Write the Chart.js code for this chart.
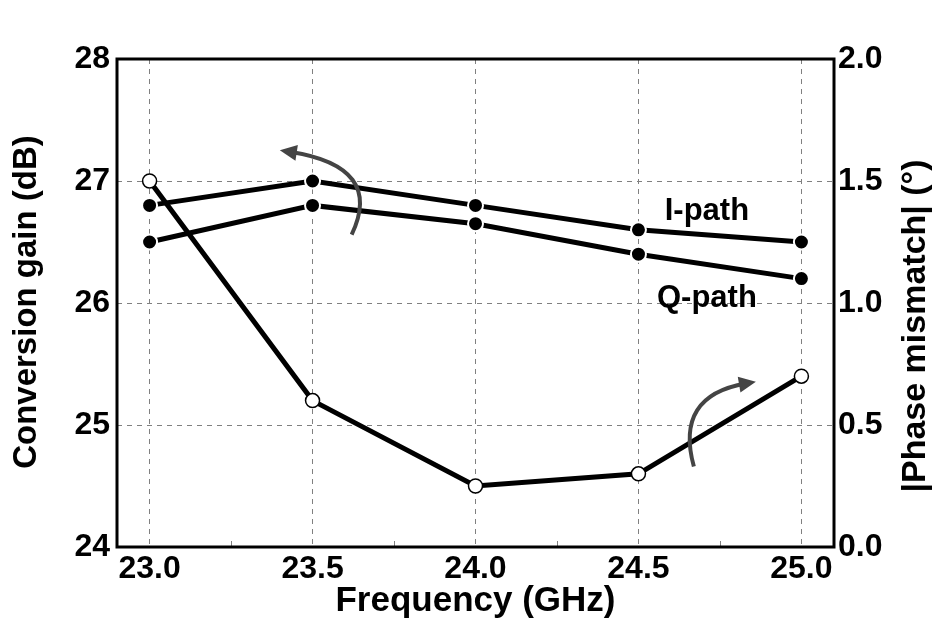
<!DOCTYPE html>
<html>
<head>
<meta charset="utf-8">
<script src="https://cdn.jsdelivr.net/npm/chart.js@4.4.1/dist/chart.umd.min.js"></script>
<style>
  html, body { margin: 0; padding: 0; background: #fff; }
</style>
</head>
<body>
<canvas id="chart" width="937" height="621"></canvas>
<script>
// data
const freqs = [23.0, 23.5, 24.0, 24.5, 25.0];
const iPathGain = [26.8, 27.0, 26.8, 26.6, 26.5];
const qPathGain = [26.5, 26.8, 26.65, 26.4, 26.2];
const phaseMismatch = [1.5, 0.6, 0.25, 0.3, 0.7];

const freqTicks = [23.0, 23.5, 24.0, 24.5, 25.0];
const minorFreqTicks = [23.25, 23.75, 24.25, 24.75];
const gainTicks = [24, 25, 26, 27, 28];
const phaseTicks = [0, 0.5, 1.0, 1.5, 2.0];

const FONT = "'Liberation Sans', Arial, sans-serif";
const GRID = '#808080';

function toPoints(xs, ys) {
    return xs.map((x, i) => ({ x: x, y: ys[i] }));
}

// frame, minor ticks, arrows, labels and axis titles
const decorPlugin = {
    id: 'decor',
    beforeDatasetsDraw(chart) {
        const ctx = chart.ctx;
        const x = chart.scales.x;
        const a = chart.chartArea;
        ctx.save();
        ctx.strokeStyle = GRID;
        ctx.lineWidth = 1;
        minorFreqTicks.forEach(v => {
            const px = Math.round(x.getPixelForValue(v)) + 0.5;
            ctx.beginPath();
            ctx.moveTo(px, a.bottom);
            ctx.lineTo(px, a.bottom - 6);
            ctx.stroke();
        });
        ctx.restore();
    },
    afterDatasetsDraw(chart) {
        const ctx = chart.ctx;
        const x = chart.scales.x, y = chart.scales.y, y1 = chart.scales.y1;
        const a = chart.chartArea;

        // arrows pointing to the axis each group belongs to
        function arrow(scaleY, p0, c, p1) {
            const x0 = x.getPixelForValue(p0[0]), y0 = scaleY.getPixelForValue(p0[1]);
            const cx = x.getPixelForValue(c[0]), cy = scaleY.getPixelForValue(c[1]);
            const x1 = x.getPixelForValue(p1[0]), y1p = scaleY.getPixelForValue(p1[1]);
            ctx.save();
            ctx.strokeStyle = '#444';
            ctx.fillStyle = '#444';
            ctx.lineWidth = 4;
            ctx.beginPath();
            ctx.moveTo(x0, y0);
            ctx.quadraticCurveTo(cx, cy, x1, y1p);
            ctx.stroke();
            const ang = Math.atan2(y1p - cy, x1 - cx);
            const len = 17, half = 8;
            const tx = x1 + Math.cos(ang) * 10, ty = y1p + Math.sin(ang) * 10;
            ctx.beginPath();
            ctx.moveTo(tx, ty);
            ctx.lineTo(tx - len * Math.cos(ang) + half * Math.sin(ang), ty - len * Math.sin(ang) - half * Math.cos(ang));
            ctx.lineTo(tx - len * Math.cos(ang) - half * Math.sin(ang), ty - len * Math.sin(ang) + half * Math.cos(ang));
            ctx.closePath();
            ctx.fill();
            ctx.restore();
        }
        arrow(y, [23.62, 26.56], [23.72, 27.12], [23.43, 27.24]);
        arrow(y1, [24.67, 0.33], [24.61, 0.62], [24.83, 0.67]);

        // series labels
        ctx.save();
        ctx.fillStyle = '#000';
        ctx.font = 'bold 31px ' + FONT;
        ctx.textAlign = 'center';
        ctx.textBaseline = 'middle';
        ctx.fillText('I-path', x.getPixelForValue(24.71), y.getPixelForValue(26.75));
        ctx.fillText('Q-path', x.getPixelForValue(24.71), y.getPixelForValue(26.04));
        ctx.restore();

        // frame
        ctx.save();
        ctx.strokeStyle = '#000';
        ctx.lineWidth = 3;
        ctx.strokeRect(a.left, a.top, a.right - a.left, a.bottom - a.top);
        ctx.restore();

        // vertical axis titles, both read bottom to top
        function vTitle(text, cx, cy, size) {
            ctx.save();
            ctx.translate(cx, cy);
            ctx.rotate(-Math.PI / 2);
            ctx.fillStyle = '#000';
            ctx.font = 'bold ' + size + 'px ' + FONT;
            ctx.textAlign = 'center';
            ctx.textBaseline = 'middle';
            ctx.fillText(text, 0, 0);
            ctx.restore();
        }
        vTitle('Conversion gain (dB)', 27, 302, 33);
        vTitle('|Phase mismatch| (\u00B0)', 916, 326, 34);
    }
};

const ctx = document.getElementById('chart').getContext('2d');
const chart = new Chart(ctx, {
    type: 'line',
    data: {
        datasets: [
            {
                label: 'I-path',
                data: toPoints(freqs, iPathGain),
                yAxisID: 'y',
                borderColor: '#000',
                borderWidth: 5,
                pointRadius: 7.5,
                pointBackgroundColor: '#000',
                pointBorderColor: '#fff',
                pointBorderWidth: 2,
                tension: 0
            },
            {
                label: 'Q-path',
                data: toPoints(freqs, qPathGain),
                yAxisID: 'y',
                borderColor: '#000',
                borderWidth: 5,
                pointRadius: 7.5,
                pointBackgroundColor: '#000',
                pointBorderColor: '#fff',
                pointBorderWidth: 2,
                tension: 0
            },
            {
                label: 'Phase mismatch',
                data: toPoints(freqs, phaseMismatch),
                yAxisID: 'y1',
                borderColor: '#000',
                borderWidth: 5,
                pointRadius: 7,
                pointBackgroundColor: '#fff',
                pointBorderColor: '#000',
                pointBorderWidth: 1.5,
                tension: 0
            }
        ]
    },
    options: {
        responsive: false,
        animation: false,
        layout: { padding: { top: 59, left: 0, right: 0, bottom: 0 } },
        plugins: {
            legend: { display: false },
            tooltip: { enabled: false }
        },
        scales: {
            x: {
                type: 'linear',
                min: 22.9,
                max: 25.1,
                afterBuildTicks: s => { s.ticks = freqTicks.map(v => ({ value: v })); },
                afterFit: s => { s.height = 74; },
                grid: { color: GRID, lineWidth: 1, drawTicks: false },
                border: { display: false, dash: [5, 5] },
                ticks: {
                    color: '#000',
                    padding: 3,
                    font: { family: FONT, size: 32, weight: 'bold' },
                    callback: v => Number(v).toFixed(1)
                },
                title: {
                    display: true,
                    text: 'Frequency (GHz)',
                    color: '#000',
                    font: { family: FONT, size: 35, weight: 'bold' },
                    padding: { top: 0, bottom: -1 }
                }
            },
            y: {
                position: 'left',
                min: 24,
                max: 28,
                afterBuildTicks: s => { s.ticks = gainTicks.map(v => ({ value: v })); },
                afterFit: s => { s.width = 117; },
                grid: { color: GRID, lineWidth: 1, drawTicks: false },
                border: { display: false, dash: [5, 5] },
                ticks: {
                    color: '#000',
                    padding: 7,
                    font: { family: FONT, size: 32, weight: 'bold' }
                }
            },
            y1: {
                position: 'right',
                min: 0,
                max: 2,
                afterBuildTicks: s => { s.ticks = phaseTicks.map(v => ({ value: v })); },
                afterFit: s => { s.width = 103; },
                grid: { display: false, drawTicks: false },
                border: { display: false },
                ticks: {
                    color: '#000',
                    padding: 4,
                    font: { family: FONT, size: 32, weight: 'bold' },
                    callback: v => Number(v).toFixed(1)
                }
            }
        }
    },
    plugins: [decorPlugin]
});
</script>
</body>
</html>
